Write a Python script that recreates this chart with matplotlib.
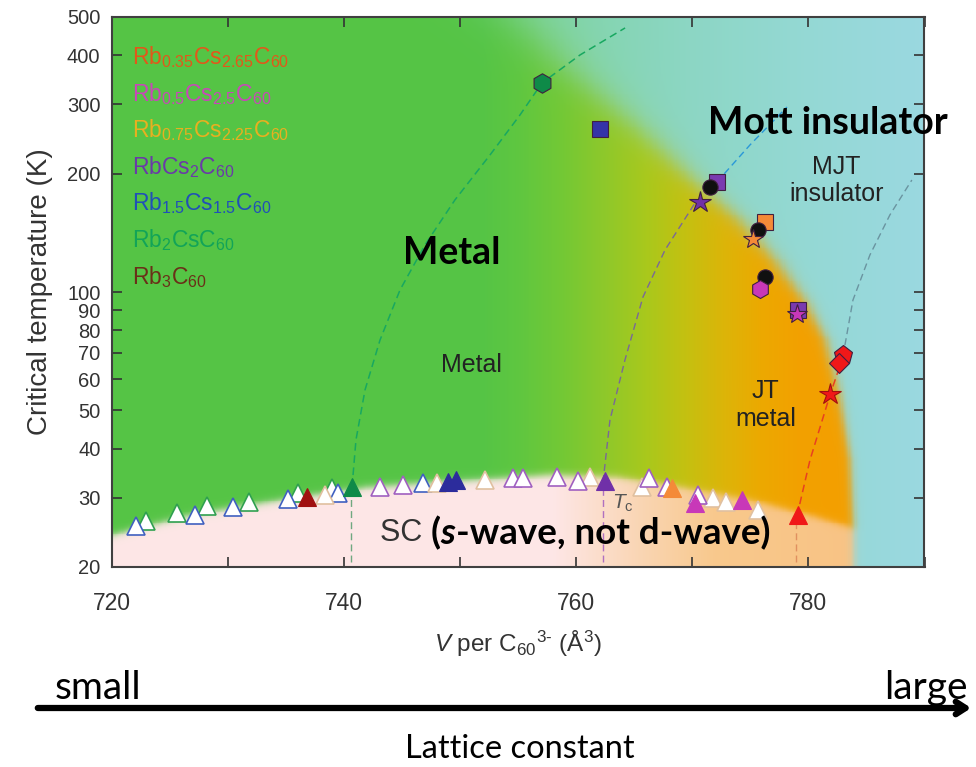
import numpy as np
import matplotlib.pyplot as plt
from matplotlib.colors import to_rgb

plt.rcParams['font.family'] = ['Liberation Sans', 'DejaVu Sans']
plt.rcParams['mathtext.fontset'] = 'custom'
plt.rcParams['mathtext.rm'] = 'Liberation Sans'
plt.rcParams['mathtext.it'] = 'Liberation Sans:italic'
plt.rcParams['mathtext.bf'] = 'Liberation Sans:bold'

# phase boundaries (V in A^3, T in K)
dome_v = [720.0, 727.6, 736.2, 742.0, 750.6, 757.7, 763.5, 769.2, 775.0, 780.8, 783.9, 790.0]
dome_t = [24.1, 27.4, 30.1, 31.9, 33.2, 34.3, 33.9, 31.9, 29.6, 26.7, 25.1, 25.1]
mott_v = [754.8, 759.2, 765.5, 769.8, 774.1, 777.1, 779.7, 781.5, 782.7, 783.6, 783.9, 783.9]
mott_t = [500, 373, 258, 196, 152, 121, 95, 75.6, 54.8, 37.5, 24.8, 20]

# open triangles: Tc under pressure
open_blue_v = [722.1, 727.2, 730.5, 735.2, 739.5, 746.8]
open_blue_t = [25.4, 27.1, 28.4, 29.8, 30.8, 32.7]
open_green_v = [723.0, 725.6, 728.2, 731.8, 736.1, 739.0]
open_green_t = [26.2, 27.4, 28.6, 29.3, 30.8, 31.8]
open_purple_v = [743.1, 745.1, 754.6, 755.4, 758.4, 760.2, 766.3, 767.8, 770.5]
open_purple_t = [31.9, 32.3, 33.7, 33.7, 33.9, 33.1, 33.7, 31.9, 30.5]
open_pale_v = [738.4, 748.0, 752.2, 761.2, 765.7, 771.8, 772.9, 775.7]
open_pale_t = [30.4, 32.7, 33.3, 33.9, 31.9, 30.0, 29.3, 27.9]

# ambient-pressure Tc per compound
tc_rb3_v, tc_rb3_t = [736.8], [30.1]
tc_rb2cs_v, tc_rb2cs_t = [740.7], [31.9]
tc_rb15_v, tc_rb15_t = [749.0, 749.7], [32.9, 33.3]
tc_rbcs2_v, tc_rbcs2_t = [762.5], [33.1]
tc_rb075_v, tc_rb075_t = [768.3], [31.8]
tc_rb05_v, tc_rb05_t = [770.2, 774.3], [29.1, 29.6]
tc_rb035_v, tc_rb035_t = [779.1], [27.1]

# metal-insulator transition points
mit_hex_v, mit_hex_t = [757.1], [340]
mit_rb15_sq_v, mit_rb15_sq_t = [762.1], [260]
mit_rbcs2_sq_v, mit_rbcs2_sq_t = [772.1, 779.1], [190, 90]
mit_rbcs2_st_v, mit_rbcs2_st_t = [770.7], [169]
mit_rb075_sq_v, mit_rb075_sq_t = [776.3], [151]
mit_rb075_st_v, mit_rb075_st_t = [775.2], [136]
mit_rb05_hex_v, mit_rb05_hex_t = [775.8], [102]
mit_rb05_st_v, mit_rb05_st_t = [779.0], [88]
mit_black_v, mit_black_t = [771.5, 775.7, 776.3], [185, 144, 109]
mit_rb035_pent_v, mit_rb035_pent_t = [783.0], [69]
mit_rb035_dia_v, mit_rb035_dia_t = [782.6], [66]
mit_rb035_st_v, mit_rb035_st_t = [781.9], [55]

# dashed guide lines
guide_green_v = [740.71, 741.05, 741.83, 743.12, 744.84, 746.99, 749.57, 752.59, 755.17, 757.07, 760.34, 764.22]
guide_green_t = [31.9, 42.1, 56.4, 75.5, 101.2, 131.7, 171.4, 223, 281.8, 340, 400.4, 469]
guide_purple_v = [762.32, 762.92, 764.21, 765.76, 767.66, 770.41]
guide_purple_t = [32.9, 47.3, 67.2, 97.1, 127.9, 171.4]
guide_blue_v = [772.13, 774.97, 778.16]
guide_blue_t = [190.4, 236.4, 295.3]
guide_red_v = [779.02, 780.14, 781.86, 782.89]
guide_red_t = [26.96, 37.4, 54.7, 67.2]
guide_grey_v = [783.15, 783.84, 785.3, 787.02, 788.91]
guide_grey_t = [73.3, 95.4, 124.2, 157, 192.6]
drop_v = [740.6, 762.32, 778.9]

legend_names = [r'Rb$_{0.35}$Cs$_{2.65}$C$_{60}$', r'Rb$_{0.5}$Cs$_{2.5}$C$_{60}$',
                r'Rb$_{0.75}$Cs$_{2.25}$C$_{60}$', r'RbCs$_{2}$C$_{60}$',
                r'Rb$_{1.5}$Cs$_{1.5}$C$_{60}$', r'Rb$_{2}$CsC$_{60}$', r'Rb$_{3}$C$_{60}$']
legend_colors = ['#e2581a', '#c848b8', '#e8b020', '#6a3aa8', '#2050b8', '#12a458', '#6a3018']

c_red = '#f01818'
c_mag = '#c838b8'
c_org = '#f48a38'
c_pur = '#7030a8'
c_blu = '#2c2c9c'
c_grn = '#0e8a48'
c_brn = '#a01010'


def ramp(x, stops, cols):
    cols = np.array([to_rgb(c) for c in cols])
    return np.stack([np.interp(x, stops, cols[:, i]) for i in range(3)], axis=-1)


fig = plt.figure(figsize=(9.76, 7.67), dpi=100)
ax = fig.add_axes([111.5 / 976, 200 / 767, 813 / 976, 550 / 767])
ax.set_yscale('log')

# background phase map
V = np.linspace(720, 790, 701)
T = np.logspace(np.log10(20), np.log10(500), 601)
VV, TT = np.meshgrid(V, T)
lt = np.log(TT)
vb = np.interp(lt, np.log(mott_t[::-1]), mott_v[::-1])
tb = np.interp(VV, dome_v, dome_t)

metal = ramp(VV, [720, 752, 755, 759, 762.5, 766, 769.5, 772.8, 776, 779.3, 790],
             ['#55c445', '#55c445', '#5ec640', '#74c834', '#8ec82a', '#a8c81c',
              '#c4c010', '#dcb408', '#eca800', '#f2a000', '#f59d00'])
sc = ramp(VV, [720, 758, 766, 772, 790],
          ['#fde6e6', '#fde6e6', '#f9d4b0', '#f8c88c', '#f8c080'])
ins = ramp(VV, [745, 758, 770, 780, 790],
           ['#7ad49a', '#80d4aa', '#8cd6c4', '#94d8d4', '#9ad8e0'])

s = 1 / (1 + np.exp(-(lt - np.log(tb)) / 0.012))
base = sc * (1 - s[..., None]) + metal * s[..., None]
frac = (lt - np.log(20)) / np.log(25)
w = 0.2 + 1.6 * frac ** 3
a = 1 / (1 + np.exp(-(VV - vb) / w))
rgb = base * (1 - a[..., None]) + ins * a[..., None]
ax.pcolormesh(V, T, rgb, shading='nearest', rasterized=True, zorder=0)

# guide lines
dash = (0, (5, 3))
ax.plot(guide_green_v, guide_green_t, ls=dash, lw=1.1, color='#18a860', zorder=2)
ax.plot(guide_purple_v, guide_purple_t, ls=dash, lw=1.0, color='#7a6898', zorder=2)
ax.plot(guide_blue_v, guide_blue_t, ls=dash, lw=1.0, color='#2a98d8', zorder=2)
ax.plot(guide_red_v, guide_red_t, ls=dash, lw=1.1, color='#e84020', zorder=2)
ax.plot(guide_grey_v, guide_grey_t, ls=dash, lw=1.0, color='#6a94a0', zorder=2)
for v, col in zip(drop_v, ['#70a880', '#b070c0', '#e09060']):
    ax.plot([v, v], [20.6, tb[0, np.argmin(abs(V - v))] - 1.5], ls=dash, lw=1.0, color=col, zorder=2)

# open triangles
for vs, ts, ec in [(open_green_v, open_green_t, '#30a050'), (open_blue_v, open_blue_t, '#4060c0'),
                   (open_pale_v, open_pale_t, '#e0c0a0'), (open_purple_v, open_purple_t, '#a060c0')]:
    ax.plot(vs, ts, '^', ms=12.5, mfc='white', mec=ec, mew=1.2, ls='none', zorder=3)

# filled Tc triangles
for vs, ts, fc in [(tc_rb3_v, tc_rb3_t, c_brn), (tc_rb2cs_v, tc_rb2cs_t, c_grn),
                   (tc_rb15_v, tc_rb15_t, c_blu), (tc_rbcs2_v, tc_rbcs2_t, c_pur),
                   (tc_rb075_v, tc_rb075_t, c_org), (tc_rb05_v, tc_rb05_t, c_mag),
                   (tc_rb035_v, tc_rb035_t, c_red)]:
    ax.plot(vs, ts, '^', ms=12.5, mfc=fc, mec=fc, mew=0.8, ls='none', zorder=4)

# metal-insulator points
mk = dict(ls='none', mew=0.8, mec='#402040', zorder=5)
ax.plot(mit_hex_v, mit_hex_t, 'h', ms=14, mfc=c_grn, **mk)
ax.plot(mit_rb15_sq_v, mit_rb15_sq_t, 's', ms=11, mfc='#3434a8', **mk)
ax.plot(mit_rbcs2_sq_v, mit_rbcs2_sq_t, 's', ms=11, mfc='#7a3ab0', **mk)
ax.plot(mit_rb075_sq_v, mit_rb075_sq_t, 's', ms=11, mfc=c_org, **mk)
ax.plot(mit_black_v, mit_black_t, 'o', ms=11, mfc='#101010', **mk)
ax.plot(mit_rbcs2_st_v, mit_rbcs2_st_t, '*', ms=16, mfc=c_pur, **mk)
ax.plot(mit_rb075_st_v, mit_rb075_st_t, '*', ms=15, mfc=c_org, **mk)
ax.plot(mit_rb05_hex_v, mit_rb05_hex_t, 'h', ms=13, mfc=c_mag, **mk)
ax.plot(mit_rb05_st_v, mit_rb05_st_t, '*', ms=15, mfc=c_mag, **mk)
ax.plot(mit_rb035_pent_v, mit_rb035_pent_t, 'p', ms=14, mfc=c_red, **mk)
ax.plot(mit_rb035_dia_v, mit_rb035_dia_t, 'D', ms=10, mfc=c_red, **mk)
ax.plot(mit_rb035_st_v, mit_rb035_st_t, '*', ms=16, mfc=c_red, mec='#a01010', mew=0.8, ls='none', zorder=5)

# axes styling
ax.set_xlim(720, 790)
ax.set_ylim(20, 500)
yt = [20, 30, 40, 50, 60, 70, 80, 90, 100, 200, 300, 400, 500]
ax.set_yticks(yt)
ax.set_yticklabels([str(v) for v in yt])
ax.yaxis.set_minor_locator(plt.NullLocator())
ax.set_xticks(np.arange(720, 791, 10))
ax.set_xticklabels(['720', '', '740', '', '760', '', '780', ''])
ax.tick_params(direction='in', top=True, right=True, length=7, width=1.2,
               labelcolor='#333333', color='#333333')
ax.tick_params(axis='x', pad=18, labelsize=16.5)
ax.tick_params(axis='y', pad=8, labelsize=14.5)
for sp in ax.spines.values():
    sp.set_linewidth(1.5)
    sp.set_color('#404040')
ax.set_ylabel('Critical temperature (K)', fontsize=20, color='#333333', labelpad=10)
ax.set_xlabel(r'$V$ per C$_{60}$$^{3\text{-}}$ (Å$^{3}$)', fontsize=17.5, color='#333333', labelpad=10)

# compound legend
for i, (name, col) in enumerate(zip(legend_names, legend_colors)):
    ax.text(0.025, 0.927 - i * 0.0665, name, transform=ax.transAxes, fontsize=16.5,
            color=col, va='center', ha='left')

# phase labels
ax.text(751.0, 65.2, 'Metal', fontsize=18, color='#222222', ha='center', va='center')
ax.text(776.3, 51.6, 'JT\nmetal', fontsize=18, color='#222222', ha='center', va='center', linespacing=1.2)
ax.text(782.4, 192, 'MJT\ninsulator', fontsize=18, color='#222222', ha='center', va='center', linespacing=1.2)
ax.text(764.0, 29.0, r'$T_\mathrm{c}$', fontsize=15, color='#555555', ha='center', va='center')
ax.text(749.3, 125.8, 'Metal', fontsize=27, fontweight='bold', family='Lato', ha='center', va='center')
ax.text(781.7, 269, 'Mott insulator', fontsize=27, fontweight='bold', family='Lato', ha='center', va='center')
sc_lbl = ax.text(743.1, 24.4, 'SC ', fontsize=22, color='#333333', ha='left', va='center')
p1 = ax.annotate('(', xy=(1, 0.5), xycoords=sc_lbl, fontsize=26.5, fontweight='bold', family='Lato',
                 ha='left', va='center')
p2 = ax.annotate('s', xy=(1, 0), xycoords=p1, fontsize=26.5, fontweight='bold', style='italic',
                 family='Lato', ha='left', va='bottom')
ax.annotate('-wave, not d-wave)', xy=(1, 0), xycoords=p2, fontsize=26.5, fontweight='bold',
            family='Lato', ha='left', va='bottom')

# lattice constant arrow below the plot
fig.text(55 / 976, 1 - 688 / 767, 'small', fontsize=28, family='Lato', ha='left', va='center')
fig.text(968 / 976, 1 - 688 / 767, 'large', fontsize=28, family='Lato', ha='right', va='center')
fig.text(520 / 976, 1 - 749 / 767, 'Lattice constant', fontsize=23.5, family='Lato', ha='center', va='center')
ax.annotate('', xy=(974, 59), xytext=(35, 59), xycoords='figure pixels', textcoords='figure pixels',
            arrowprops=dict(arrowstyle='->,head_length=0.7,head_width=0.45', lw=4.5, color='black'))

fig.savefig('out.png', dpi=100)
